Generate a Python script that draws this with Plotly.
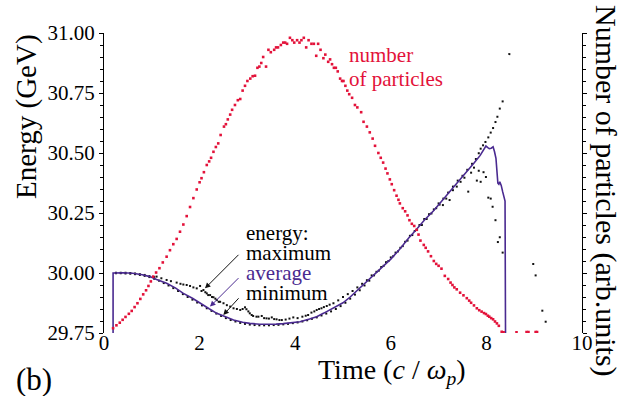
import plotly.graph_objects as go

# ---------------- data ----------------
# number of particles (arb. units), red dots
n_t = [0.19,0.26,0.33,0.39,0.45,0.52,0.58,0.64,0.70,0.76,0.82,0.88,0.93,0.98,1.03,1.09,1.16,1.23,1.31,1.38,
       1.45,1.52,1.59,1.66,1.73,1.80,1.87,1.94,2.00,2.04,2.09,2.15,2.20,2.24,2.29,2.34,2.39,2.44,2.51,2.55,
       2.59,2.64,2.68,2.74,2.80,2.85,2.90,2.95,3.00,3.06,3.11,3.16,3.21,3.25,3.29,3.33,3.39,3.44,3.49,3.56,
       3.60,3.64,3.70,3.75,3.79,3.83,3.89,3.94,3.98,4.04,4.09,4.13,4.18,4.23,4.28,4.34,4.39,4.44,4.48,4.53,
       4.59,4.63,4.69,4.73,4.77,4.81,4.85,4.89,4.94,4.98,5.01,5.05,5.09,5.13,5.19,5.25,5.30,5.38,5.43,5.50,
       5.56,5.62,5.67,5.74,5.79,5.84,5.89,5.93,5.98,6.02,6.07,6.12,6.16,6.19,6.25,6.30,6.35,6.39,6.44,6.49,
       6.54,6.58,6.62,6.69,6.73,6.78,6.84,6.90,6.95,7.00,7.06,7.13,7.20,7.25,7.29,7.33,7.38,7.45,7.52,7.59,
       7.64,7.68,7.74,7.80,7.85,7.90,7.95,7.99,8.03,8.06,8.10,8.14,8.18,8.22,8.26,8.32,8.36,8.63,8.84,8.88,
       9.03,9.06]
n_val = [0.020,0.032,0.043,0.055,0.067,0.080,0.092,0.108,0.124,0.142,0.161,0.178,0.196,0.215,0.235,0.252,0.270,0.294,0.318,0.345,
         0.370,0.392,0.422,0.452,0.487,0.525,0.562,0.598,0.628,0.645,0.670,0.700,0.715,0.730,0.755,0.775,0.790,0.825,0.860,0.870,
         0.890,0.910,0.930,0.950,0.970,0.975,1.010,1.030,1.050,1.060,1.070,1.072,1.105,1.110,1.125,1.150,1.110,1.180,1.170,1.180,
         1.190,1.190,1.200,1.210,1.210,1.205,1.230,1.220,1.210,1.220,1.210,1.220,1.230,1.190,1.220,1.205,1.205,1.155,1.205,1.180,
         1.145,1.160,1.130,1.140,1.120,1.105,1.105,1.090,1.060,1.050,1.050,1.030,1.010,0.995,0.980,0.950,0.940,0.920,0.880,0.860,
         0.836,0.810,0.780,0.750,0.730,0.710,0.685,0.665,0.640,0.620,0.595,0.572,0.555,0.540,0.520,0.507,0.490,0.470,0.455,0.446,
         0.430,0.410,0.385,0.367,0.355,0.340,0.320,0.300,0.288,0.280,0.268,0.238,0.225,0.210,0.200,0.190,0.182,0.168,0.157,0.145,
         0.135,0.126,0.115,0.103,0.095,0.089,0.083,0.079,0.072,0.068,0.062,0.057,0.048,0.040,0.030,0.005,0.003,0.003,0.004,0.004,
         0.004,0.004]

# average energy (GeV), purple line
avg_t = [0.19,0.19,0.40,0.60,0.80,0.96,1.10,1.31,1.50,1.66,1.85,2.01,2.20,2.36,2.55,2.71,2.90,3.05,3.26,3.45,
         3.60,3.75,3.90,4.10,4.30,4.45,4.60,4.80,5.00,5.15,5.30,5.50,5.65,5.77,5.84,6.00,6.19,6.37,6.54,6.70,
         6.89,7.05,7.24,7.40,7.59,7.75,7.87,7.95,7.99,8.03,8.06,8.10,8.14,8.17,8.20,8.24,8.26,8.28,8.31,8.34,
         8.37,8.39,8.40]
avg_e = [29.75,30.000,30.001,29.999,29.993,29.985,29.973,29.957,29.937,29.915,29.895,29.874,29.851,29.832,29.815,29.804,29.795,29.790,29.7865,29.786,
         29.787,29.789,29.792,29.797,29.808,29.818,29.833,29.853,29.876,29.900,29.928,29.964,29.992,30.015,30.030,30.058,30.100,30.145,30.182,30.220,
         30.258,30.295,30.339,30.378,30.422,30.460,30.490,30.515,30.529,30.522,30.518,30.520,30.526,30.505,30.478,30.374,30.370,30.380,30.365,30.339,
         30.310,30.300,29.75]

# maximum energy (GeV), black dots
max_t = [0.25,0.35,0.45,0.55,0.65,0.75,0.85,0.95,1.05,1.10,1.20,1.31,1.40,1.52,1.60,1.66,1.73,1.80,1.87,1.94,
         2.01,2.04,2.08,2.12,2.15,2.18,2.22,2.26,2.29,2.33,2.36,2.40,2.43,2.50,2.57,2.64,2.71,2.78,2.85,2.90,
         2.95,2.98,3.02,3.05,3.09,3.12,3.19,3.23,3.30,3.35,3.40,3.45,3.51,3.56,3.61,3.67,3.72,3.80,3.88,3.96,
         4.05,4.15,4.22,4.27,4.34,4.40,4.45,4.50,4.55,4.60,4.66,4.72,4.80,4.90,5.00,5.10,5.20,5.30,5.40,5.50,
         5.60,5.70,5.80,5.90,6.00,6.10,6.20,6.30,6.40,6.50,6.60,6.70,6.80,6.90,7.00,7.10,7.20,7.30,7.40,7.50,
         7.60,7.70,7.78,7.84,7.88,7.93,7.98,8.04,8.09,8.14,8.19,8.23,8.28,8.34,8.48,8.98,9.17]
max_e = [30.001,30.001,30.001,30.000,29.998,29.995,29.992,29.987,29.983,29.985,29.978,29.971,29.966,29.960,29.955,29.952,29.950,29.946,29.940,29.936,
         29.946,29.925,29.929,29.920,29.915,29.908,29.908,29.900,29.899,29.893,29.887,29.880,29.880,29.874,29.866,29.860,29.853,29.850,29.846,29.850,
         29.857,29.849,29.840,29.832,29.825,29.821,29.818,29.818,29.821,29.812,29.811,29.810,29.815,29.808,29.807,29.804,29.804,29.806,29.810,29.815,
         29.812,29.818,29.822,29.825,29.835,29.840,29.846,29.850,29.853,29.858,29.8625,29.868,29.874,29.886,29.900,29.912,29.925,29.940,29.955,29.970,
         29.990,30.005,30.025,30.045,30.065,30.085,30.105,30.130,30.155,30.175,30.200,30.225,30.245,30.265,30.290,30.310,30.335,30.360,30.385,30.405,
         30.430,30.455,30.475,30.499,30.518,30.532,30.546,30.565,30.585,30.604,30.629,30.651,30.685,30.715,30.912,30.0375,29.843]

# minimum energy (GeV), black dots
min_t = [0.25,0.35,0.45,0.55,0.65,0.75,0.85,0.95,1.05,1.15,1.25,1.35,1.45,1.55,1.65,1.75,1.85,1.95,2.05,2.15,
         2.25,2.35,2.45,2.55,2.65,2.75,2.85,2.95,3.05,3.15,3.25,3.35,3.45,3.55,3.65,3.75,3.85,3.95,4.05,4.15,
         4.25,4.35,4.45,4.55,4.65,4.75,4.85,4.95,5.05,5.15,5.25,5.35,5.45,5.55,5.65,5.75,5.85,5.95,6.05,6.15,
         6.25,6.35,6.45,6.55,6.65,6.75,6.85,6.95,7.02,7.09,7.16,7.23,7.30,7.38,7.46,7.54,7.62,7.68,7.74,7.80,
         7.84,7.88,7.94,7.99,8.04,8.09,8.13,8.19,8.24,8.28,8.34,9.03,9.24]
min_e = [29.999,29.999,29.998,29.997,29.995,29.992,29.988,29.983,29.976,29.968,29.958,29.948,29.937,29.925,29.912,29.900,29.889,29.877,29.865,29.853,
         29.842,29.831,29.821,29.812,29.804,29.798,29.792,29.788,29.785,29.783,29.782,29.782,29.782,29.783,29.784,29.786,29.788,29.791,29.794,29.798,
         29.803,29.809,29.815,29.823,29.831,29.840,29.850,29.862,29.876,29.893,29.910,29.928,29.948,29.968,29.990,30.010,30.030,30.050,30.070,30.090,
         30.112,30.135,30.158,30.180,30.200,30.225,30.248,30.270,30.285,30.283,30.310,30.304,30.345,30.360,30.380,30.397,30.339,30.418,30.439,30.385,
         30.426,30.380,30.420,30.400,30.314,30.310,30.276,30.220,30.129,30.149,30.085,29.990,29.797]

x_ticks = [0, 2, 4, 6, 8, 10]
y_ticks = [29.75, 30.00, 30.25, 30.50, 30.75, 31.00]

# ---------------- styling ----------------
FONT = "Liberation Serif"
RED = "#e3123a"
PURPLE = "#4a2a90"
BLACK = "#111111"

fig = go.Figure()
fig.add_trace(go.Scatter(x=n_t, y=n_val, mode="markers", yaxis="y2",
                         marker=dict(symbol="square", size=2.6, color=RED, line=dict(width=0)),
                         showlegend=False, hoverinfo="skip"))
fig.add_trace(go.Scatter(x=max_t, y=max_e, mode="markers",
                         marker=dict(symbol="square", size=2, color=BLACK, line=dict(width=0)),
                         showlegend=False, hoverinfo="skip"))
fig.add_trace(go.Scatter(x=min_t, y=min_e, mode="markers",
                         marker=dict(symbol="square", size=2, color=BLACK, line=dict(width=0)),
                         showlegend=False, hoverinfo="skip"))
fig.add_trace(go.Scatter(x=avg_t, y=avg_e, mode="lines",
                         line=dict(color=PURPLE, width=1.6),
                         showlegend=False, hoverinfo="skip"))

L, R, T, B = 104, 52, 33, 63
W, H = 634, 396
PW, PH = W - L - R, H - T - B

def px2paper(px, py):
    return (px - L) / PW, (H - B - py) / PH

def tick_axis(rng, vals, direction, minor_dtick, **kw):
    d = dict(range=rng, tickvals=vals, ticks=direction, ticklen=4, tickwidth=1, tickcolor="black",
             showticklabels=False, showline=False, showgrid=False, zeroline=False,
             minor=dict(ticks=direction, ticklen=2.5, dtick=minor_dtick, tickcolor="black", showgrid=False))
    d.update(kw)
    return d

fig.update_layout(
    width=W, height=H,
    margin=dict(l=L, r=R, t=T, b=B, pad=0),
    paper_bgcolor="white", plot_bgcolor="white",
    font=dict(family=FONT, color="black"),
    # labelled x axis: lifted a few px so the labels sit close to the axis line
    xaxis=dict(range=[0, 10], tickvals=x_ticks, ticks="", showline=False,
               anchor="free", position=5 / PH,
               showgrid=False, zeroline=False, tickfont=dict(family=FONT, size=21, color="black")),
    yaxis=dict(range=[29.75, 31.0], tickvals=y_ticks, tickformat=".2f", ticks="outside", ticklen=4,
               tickcolor="black", showline=True, linecolor="black", linewidth=1.3,
               showgrid=False, zeroline=False, tickfont=dict(family=FONT, size=21, color="black"),
               minor=dict(ticks="outside", ticklen=2.5, dtick=0.05, tickcolor="black", showgrid=False)),
    # tick-only axes so the ticks cross the axis lines
    xaxis2=tick_axis([0, 10], x_ticks, "outside", 0.4, overlaying="x", anchor="y", side="bottom",
                     showline=True, linecolor="black", linewidth=1.3),
    xaxis3=tick_axis([0, 10], x_ticks, "inside", 0.4, overlaying="x", anchor="y", side="bottom"),
    yaxis3=tick_axis([29.75, 31.0], y_ticks, "inside", 0.05, overlaying="y", anchor="x", side="left"),
    yaxis2=dict(range=[0, 1.25], overlaying="y", anchor="x", side="right",
                dtick=0.25, tick0=0, ticks="outside", ticklen=4, showticklabels=False,
                showline=True, linecolor="black", linewidth=1.3,
                minor=dict(ticks="outside", ticklen=2.5, dtick=0.05, tickcolor="black", showgrid=False),
                showgrid=False, zeroline=False, tickcolor="black"),
    yaxis4=dict(range=[0, 1.25], overlaying="y", anchor="x", side="right",
                dtick=0.25, tick0=0, ticks="inside", ticklen=4, showticklabels=False, showline=False,
                minor=dict(ticks="inside", ticklen=2.5, dtick=0.05, tickcolor="black", showgrid=False),
                showgrid=False, zeroline=False, tickcolor="black"),
)

ann = []
def text_ann(px, py, text, size, color="black", angle=0, xanchor="center"):
    x, y = px2paper(px, py)
    ann.append(dict(x=x, y=y, xref="paper", yref="paper", text=text, showarrow=False,
                    textangle=angle, xanchor=xanchor, yanchor="middle",
                    font=dict(family=FONT, size=size, color=color)))

text_ann(26, 117, "Energy (GeV)", 29, angle=-90)
text_ann(606, 191, "Number of particles (arb.units)", 30, angle=90)
text_ann(392, 372, "Time (<i>c</i> / <i>ω</i><sub><i>p</i></sub>)", 28)
text_ann(34, 379, "(b)", 31)
text_ann(347, 55, "number", 21, color=RED, xanchor="left")
text_ann(347, 79, "of particles", 21, color=RED, xanchor="left")
text_ann(244, 233, "energy:", 21, xanchor="left")
text_ann(244, 253, "maximum", 21, xanchor="left")
text_ann(244, 273, "average", 21, color=PURPLE, xanchor="left")
text_ann(244, 293, "minimum", 21, xanchor="left")

# arrows: (tip t, tip E, tail t, tail E, colour)
arrows = [(2.113, 29.936, 2.845, 30.082, BLACK),
          (2.218, 29.860, 2.845, 29.985, PURPLE),
          (2.496, 29.825, 2.845, 29.901, BLACK)]
for xt, yt, xa, ya, c in arrows:
    ann.append(dict(x=xt, y=yt, xref="x", yref="y", ax=xa, ay=ya, axref="x", ayref="y",
                    text="", showarrow=True, arrowhead=2, arrowsize=1.1, arrowwidth=1,
                    arrowcolor=c, standoff=0, startstandoff=0))

fig.update_layout(annotations=ann)

fig.write_html("out.html", config={"displayModeBar": False},
               post_script="document.body.style.margin='0';document.body.style.overflow='hidden';")
